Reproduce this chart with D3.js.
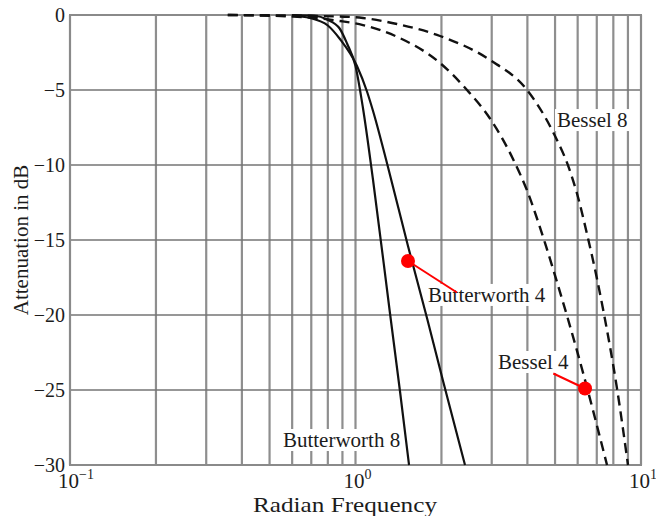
<!DOCTYPE html>
<html>
<head>
<meta charset="utf-8">
<style>
  body { margin: 0; background: #fff; }
  svg text { font-family: "Liberation Serif", "DejaVu Serif", serif; fill: #1c1c1c; }
</style>
</head>
<body>
<svg id="draw" width="656" height="516"></svg>

<script src="https://cdn.jsdelivr.net/npm/d3@7/dist/d3.min.js"></script>

<script>
    // curves: radian frequency and attenuation (dB)
    var bw4Freq = [0.6, 0.693, 0.8, 0.882, 1.012, 1.097, 1.152, 1.29, 1.527, 1.78, 2.026, 2.418];
    var bw4Db   = [-0.05, -0.2, -0.7, -1.6, -3.4, -5.1, -6.4, -9.9, -15.4, -20.2, -24.4, -30];

    var bw8Freq = [0.6, 0.72, 0.795, 0.88, 0.934, 1.0, 1.062, 1.152, 1.321, 1.432, 1.54];
    var bw8Db   = [0, -0.05, -0.3, -0.9, -1.9, -3.4, -6.2, -11.0, -19.9, -25.1, -30];

    var bes4Freq = [0.357, 0.604, 0.882, 1.062, 1.397, 1.977, 2.458, 2.959, 3.562, 3.989, 4.61, 5.079, 6.113, 7.603];
    var bes4Db   = [0, -0.1, -0.4, -0.67, -1.45, -3.2, -5.0, -6.9, -9.6, -11.7, -15.2, -17.8, -23.1, -30];

    var bes8Freq = [0.357, 0.882, 1.062, 1.397, 1.977, 2.959, 3.989, 4.918, 5.64, 5.968, 6.47, 7.015, 7.362, 8.24, 9.005];
    var bes8Db   = [0, -0.1, -0.2, -0.6, -1.4, -3.0, -5.0, -7.8, -10.4, -11.9, -14.6, -17.6, -19.6, -24.9, -30];

    var seriesNames = ["Butterworth 4", "Butterworth 8", "Bessel 4", "Bessel 8"];
    var yTicks = [0, -5, -10, -15, -20, -25, -30];
    var xDecades = [-1, 0, 1];

    // red markers on the Butterworth 4 and Bessel 4 curves
    var markerFreq = [1.527, 6.367];
    var markerDb = [-16.4, -24.9];

    var width = 656, height = 516;
    var plotL = 70, plotR = 641, plotT = 15, plotB = 465;
    var fontSize = 21;

    var x = d3.scaleLog().domain([0.1, 10]).range([plotL, plotR]);
    var y = d3.scaleLinear().domain([-30, 0]).range([plotB, plotT]);

    var series = [
        {name: seriesNames[0], f: bw4Freq, a: bw4Db, dash: null},
        {name: seriesNames[1], f: bw8Freq, a: bw8Db, dash: null},
        {name: seriesNames[2], f: bes4Freq, a: bes4Db, dash: "10,6"},
        {name: seriesNames[3], f: bes8Freq, a: bes8Db, dash: "10,6"}
    ];

    // where the curve names sit (text start + baseline), in data units
    var labelPos = {
        "Bessel 8":      [5.08, -7.47],
        "Butterworth 4": [1.795, -19.13],
        "Bessel 4":      [3.157, -23.6],
        "Butterworth 8": [0.557, -28.8]
    };
    // end of the red leader lines
    var leaderEnd = [[2.267, -18.5], [4.93, -23.9]];

    const svg = d3.select("svg#draw");

    // grid
    svg.append("g")
      .selectAll("line")
      .data(x.ticks())
      .join("line")
        .attr("x1", d => x(d)).attr("x2", d => x(d))
        .attr("y1", plotT).attr("y2", plotB)
        .attr("stroke", "#8e8e8e")
        .attr("stroke-width", 2.2);

    svg.append("g")
      .selectAll("line")
      .data(yTicks)
      .join("line")
        .attr("x1", plotL).attr("x2", plotR)
        .attr("y1", d => y(d)).attr("y2", d => y(d))
        .attr("stroke", "#747474")
        .attr("stroke-width", 1.6);

    svg.append("rect")
        .attr("x", plotL).attr("y", plotT)
        .attr("width", plotR - plotL).attr("height", plotB - plotT)
        .attr("fill", "none")
        .attr("stroke", "#8a8a8a")
        .attr("stroke-width", 2);

    // name labels knock out the grid behind them
    var labels = svg.append("g")
      .selectAll("g")
      .data(seriesNames)
      .join("g")
        .attr("transform", d => `translate(${x(labelPos[d][0])},${y(labelPos[d][1])})`);

    labels.append("text")
        .attr("font-size", fontSize)
        .text(d => d);

    labels.each(function() {
        var g = d3.select(this);
        var b = g.select("text").node().getBBox();
        g.insert("rect", "text")
            .attr("x", b.x - 2).attr("y", b.y + 1)
            .attr("width", b.width + 4).attr("height", b.height - 2)
            .attr("fill", "#fff");
    });

    var line = d3.line()
        .x(d => x(d[0]))
        .y(d => y(d[1]))
        .curve(d3.curveMonotoneX);

    svg.append("g")
      .selectAll("path")
      .data(series)
      .join("path")
        .attr("d", s => line(s.f.map((f, i) => [f, s.a[i]])))
        .attr("fill", "none")
        .attr("stroke", "#111")
        .attr("stroke-width", s => s.dash ? 2.4 : 2.2)
        .attr("stroke-dasharray", s => s.dash);

    // put the text back on top of the curves
    labels.raise();

    // red markers
    svg.append("g")
      .selectAll("line")
      .data(markerFreq)
      .join("line")
        .attr("x1", (d, i) => x(d)).attr("y1", (d, i) => y(markerDb[i]))
        .attr("x2", (d, i) => x(leaderEnd[i][0])).attr("y2", (d, i) => y(leaderEnd[i][1]))
        .attr("stroke", "#f00")
        .attr("stroke-width", 2);

    svg.append("g")
      .selectAll("circle")
      .data(markerFreq)
      .join("circle")
        .attr("cx", d => x(d))
        .attr("cy", (d, i) => y(markerDb[i]))
        .attr("r", 7)
        .attr("fill", "#f00");

    // axes
    var yAxis = svg.append("g")
        .attr("transform", `translate(${plotL},0)`)
        .call(d3.axisLeft(y).tickValues(yTicks).tickSize(0).tickPadding(5).tickFormat(d3.format("d")));
    yAxis.select(".domain").remove();
    yAxis.attr("font-family", null).attr("font-size", null);
    yAxis.selectAll("text")
        .attr("font-size", 20)
        .attr("dy", "0.34em");

    var xLab = svg.append("g")
      .selectAll("text")
      .data(xDecades)
      .join("text")
        .attr("x", d => x(Math.pow(10, d)) - 12)
        .attr("y", 488)
        .attr("font-size", fontSize);
    xLab.append("tspan").text("10");
    xLab.append("tspan")
        .attr("dy", -9)
        .attr("font-size", 14)
        .text(d => d3.format("d")(d));

    svg.append("text")
        .attr("x", 253)
        .attr("y", 512)
        .attr("font-size", 22)
        .attr("textLength", 184)
        .attr("lengthAdjust", "spacingAndGlyphs")
        .text("Radian Frequency");

    svg.append("text")
        .attr("transform", `translate(28,${(plotT + plotB) / 2}) rotate(-90)`)
        .attr("text-anchor", "middle")
        .attr("font-size", fontSize)
        .text("Attenuation in dB");
</script>
</body>
</html>
